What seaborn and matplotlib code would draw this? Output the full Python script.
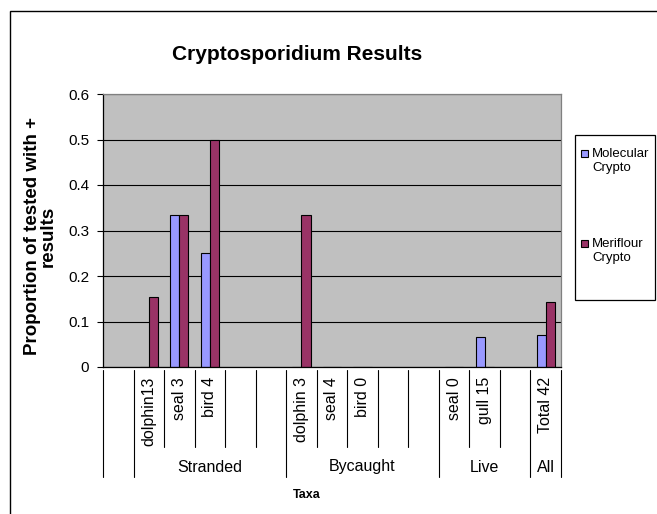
import matplotlib
matplotlib.use("Agg")
import matplotlib.pyplot as plt
from matplotlib.patches import Rectangle
from matplotlib.lines import Line2D
import matplotlib.transforms as mtransforms
import seaborn as sns
import pandas as pd

sns.set_theme(style="white")
plt.rcParams['font.family'] = ['Liberation Sans', 'DejaVu Sans']

# ---- data ----
cat_labels = ["", "dolphin13", "seal 3", "bird 4", "", "", "dolphin 3", "seal 4", "bird 0",
              "", "", "seal 0", "gull 15", "", "Total 42"]
group_labels = ["Stranded", "Bycaught", "Live", "All"]
group_spans = [(1, 5), (6, 10), (11, 13), (14, 14)]  # inclusive category index ranges
series = ["Molecular Crypto", "Meriflour Crypto"]
molecular = [None, 0, 0.333, 0.25, None, None, 0, 0, 0, None, None, 0, 0.0667, None, 0.0714]
meriflour = [None, 0.154, 0.333, 0.5, None, None, 0.333, 0, 0, None, None, 0, 0, None, 0.143]
colors = ["#9999FF", "#993366"]
yticks = [0, 0.1, 0.2, 0.3, 0.4, 0.5, 0.6]
ytick_labels = ["0", "0.1", "0.2", "0.3", "0.4", "0.5", "0.6"]

keys = [f"c{i}" for i in range(len(cat_labels))]
rows = []
for k, m, f in zip(keys, molecular, meriflour):
    if m is not None:
        rows.append({"key": k, "series": series[0], "value": m})
    if f is not None:
        rows.append({"key": k, "series": series[1], "value": f})
df = pd.DataFrame(rows)

W, H = 657, 514
fig = plt.figure(figsize=(W / 100, H / 100), dpi=100)
fig.patch.set_facecolor("white")

def fx(px):
    return px / W

def fy(py):
    return 1 - py / H

ax_l, ax_r, ax_t, ax_b = 103, 561, 94, 367
ax = fig.add_axes([fx(ax_l), fy(ax_b), fx(ax_r - ax_l), (ax_b - ax_t) / H])
ax.set_facecolor("#C0C0C0")

sns.barplot(data=df, x="key", y="value", hue="series", order=keys, hue_order=series,
            palette=colors, width=0.6, gap=0, edgecolor="black", linewidth=0.8,
            saturation=1, ax=ax, legend=False, errorbar=None)

ax.set_xlim(-0.5, len(keys) - 0.5)
ax.set_ylim(0, 0.6)
ax.set_yticks(yticks)
ax.set_yticklabels(ytick_labels, fontsize=11, color="black")
ax.yaxis.grid(True, color="black", linewidth=0.8)
ax.set_axisbelow(True)
ax.tick_params(axis="y", length=4, width=0.8, color="black", pad=6, left=True, direction="out")
ax.tick_params(axis="x", length=0, labelbottom=False)
ax.set_xlabel("")
ax.set_ylabel("")
for s in ["left", "bottom"]:
    ax.spines[s].set_color("black")
    ax.spines[s].set_linewidth(0.9)
for s in ["top", "right"]:
    ax.spines[s].set_color("#808080")
    ax.spines[s].set_linewidth(0.9)

# multi-level category axis
trans = mtransforms.blended_transform_factory(ax.transData, ax.transAxes)
axh = ax_b - ax_t

def ay(py):
    return (ax_b - py) / axh

long_bounds = {-0.5}
for a, b in group_spans:
    long_bounds.add(a - 0.5)
    long_bounds.add(b + 0.5)
for i in range(len(keys) + 1):
    xb = i - 0.5
    ybot = ay(477) if xb in long_bounds else ay(447)
    ax.add_line(Line2D([xb, xb], [ay(369.5), ybot], transform=trans, color="black",
                       linewidth=0.8, clip_on=False))
for i, lab in enumerate(cat_labels):
    if lab:
        ax.text(i, ay(377), lab, transform=trans, rotation=90, ha="center", va="top",
                fontsize=11.5, color="black")
for (a, b), lab in zip(group_spans, group_labels):
    ax.text((a + b) / 2, ay(467), lab, transform=trans, ha="center", va="center",
            fontsize=11.5, color="black")

# titles
fig.text(fx(297), fy(55), "Cryptosporidium Results", ha="center", va="center",
         fontsize=15, fontweight="bold", color="black")
fig.text(fx(307), fy(495), "Taxa", ha="center", va="center", fontsize=9,
         fontweight="bold", color="black")
fig.text(fx(40), fy(236), "Proportion of tested with +\nresults", ha="center", va="center",
         rotation=90, fontsize=13.5, fontweight="bold", color="black", linespacing=0.9,
         multialignment="center")

# legend (drawn box)
fig.patches.append(Rectangle((fx(575), fy(300)), fx(655 - 575), (300 - 135) / H,
                             transform=fig.transFigure, facecolor="white",
                             edgecolor="black", linewidth=0.9))
leg_items = [("Molecular\nCrypto", colors[0], 160), ("Meriflour\nCrypto", colors[1], 250)]
for lab, c, yc in leg_items:
    fig.patches.append(Rectangle((fx(581), fy(yc - 3)), fx(7), 7 / H,
                                 transform=fig.transFigure, facecolor=c,
                                 edgecolor="black", linewidth=0.8))
    fig.text(fx(592), fy(yc + 1), lab, ha="left", va="center", fontsize=9.5,
             color="black", linespacing=1.15)

# outer chart border (right and bottom edges fall outside the image)
fig.patches.append(Rectangle((fx(9.5), fy(525)), fx(665 - 9.5), (525 - 10.5) / H,
                             transform=fig.transFigure, facecolor="none",
                             edgecolor="black", linewidth=1.0, clip_on=False))

fig.savefig("out.png", dpi=100)
